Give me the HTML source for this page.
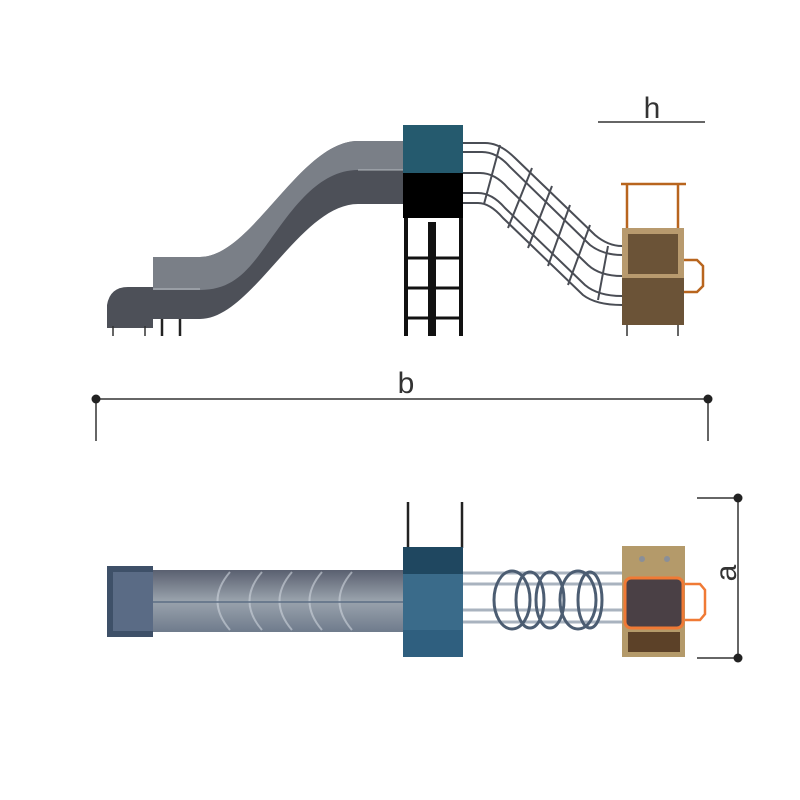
<!DOCTYPE html>
<html><head><meta charset="utf-8"><style>body{margin:0;background:#fff}svg{display:block}</style></head><body>
<svg width="800" height="800" viewBox="0 0 800 800" xmlns="http://www.w3.org/2000/svg">
<defs>
<linearGradient id="tube" x1="0" y1="0" x2="0" y2="1"><stop offset="0" stop-color="#5a6070"/><stop offset="0.5" stop-color="#9aa3ad"/><stop offset="1" stop-color="#6f7b8c"/></linearGradient>
</defs>
<!-- elevation slide -->
<path d="M107,328 L107,305 Q110,287 128,287 L153,287 L153,328 Z" fill="#4d5058"/>
<g stroke="#333" stroke-width="1.5"><line x1="113" y1="326" x2="113" y2="336"/><line x1="145" y1="326" x2="145" y2="336"/></g>
<g stroke="#222" stroke-width="2.5"><line x1="162" y1="318" x2="162" y2="336"/><line x1="180" y1="318" x2="180" y2="336"/></g>
<path d="M153,257 H200 C252,257 300,141 358,141 H403 V204 H358 C300,204 252,319 200,319 H153 Z" fill="#4d5058"/>
<path d="M153,257 H200 C252,257 300,141 358,141 H403 V170 H358 C318,170 292,210 270,240 C250,268 235,290 200,290 H153 Z" fill="#7f848d" opacity="0.9"/>
<g stroke="#c8ccd2" stroke-width="1" fill="none" opacity="0.8"><line x1="153" y1="289" x2="200" y2="289"/><line x1="358" y1="170" x2="403" y2="170"/></g>
<!-- tower -->
<rect x="403" y="125" width="60" height="48" fill="#255a6e"/>
<rect x="403" y="173" width="60" height="45" fill="#000"/>
<g stroke="#111"><line x1="406" y1="218" x2="406" y2="336" stroke-width="4"/><line x1="461" y1="218" x2="461" y2="336" stroke-width="4"/><line x1="432" y1="222" x2="432" y2="336" stroke-width="8"/>
<line x1="406" y1="258" x2="461" y2="258" stroke-width="3"/><line x1="406" y1="288" x2="461" y2="288" stroke-width="3"/><line x1="406" y1="318" x2="461" y2="318" stroke-width="3"/></g>
<!-- net -->
<g fill="none" stroke="#4a4d55" stroke-width="2">
<path d="M463,143 H485 Q500,143 515,158 L595,235 Q608,246 622,246"/>
<path d="M463,152 H482 Q497,152 510,167 L590,245 Q603,255 622,255"/>
<path d="M463,173 H480 Q495,173 508,188 L588,265 Q600,276 622,276"/>
<path d="M463,193 H478 Q492,193 505,208 L585,285 Q598,296 622,296"/>
<path d="M463,203 H478 Q490,203 503,218 L583,295 Q596,305 622,305"/>
<path d="M500,145 L484,204 M532,168 L508,228 M552,186 L528,248 M570,205 L548,266 M590,225 L568,285 M608,246 L598,300"/>
</g>
<!-- box elevation -->
<g stroke="#b8651e" stroke-width="2.5" fill="none"><line x1="621" y1="184" x2="686" y2="184"/><line x1="627" y1="184" x2="627" y2="230"/><line x1="678" y1="184" x2="678" y2="230"/><path d="M683,260 H697 L703,266 V286 L697,292 H683"/></g>
<rect x="622" y="228" width="62" height="97" fill="#b89a6e"/>
<rect x="628" y="234" width="50" height="40" fill="#6b5337"/>
<rect x="622" y="278" width="62" height="47" fill="#6b5337"/>
<g stroke="#666" stroke-width="2"><line x1="627" y1="325" x2="627" y2="336"/><line x1="678" y1="325" x2="678" y2="336"/></g>
<!-- dims -->
<g stroke="#333" stroke-width="1.5"><line x1="598" y1="122" x2="705" y2="122"/><line x1="96" y1="399" x2="708" y2="399"/><line x1="96" y1="399" x2="96" y2="441"/><line x1="708" y1="399" x2="708" y2="441"/>
<line x1="738" y1="498" x2="738" y2="658"/><line x1="697" y1="498" x2="738" y2="498"/><line x1="697" y1="658" x2="738" y2="658"/></g>
<g fill="#222"><circle cx="96" cy="399" r="4.5"/><circle cx="708" cy="399" r="4.5"/><circle cx="738" cy="498" r="4.5"/><circle cx="738" cy="658" r="4.5"/></g>
<g font-family="Liberation Sans, sans-serif" font-size="30" fill="#333" text-anchor="middle">
<text x="652" y="118">h</text><text x="406" y="393">b</text>
<text x="0" y="0" transform="translate(736,573) rotate(-90)">a</text></g>
<!-- plan slide -->
<rect x="153" y="570" width="250" height="62" fill="url(#tube)"/>
<rect x="107" y="566" width="46" height="71" fill="#3e5068"/>
<rect x="113" y="572" width="40" height="59" fill="#5a6b85"/>
<g fill="none" stroke="#cdd3dc" stroke-width="2" opacity="0.6">
<path d="M230,572 Q205,601 230,630 M262,572 Q237,601 262,630 M292,572 Q267,601 292,630 M322,572 Q297,601 322,630 M352,572 Q327,601 352,630"/></g>
<line x1="153" y1="602" x2="403" y2="602" stroke="#5c6e84" stroke-width="1.5"/>
<!-- plan tower -->
<g stroke="#222" stroke-width="2.5"><line x1="408" y1="502" x2="408" y2="548"/><line x1="462" y1="502" x2="462" y2="548"/></g>
<rect x="403" y="547" width="60" height="110" fill="#3a6b8a"/>
<rect x="403" y="547" width="60" height="27" fill="#1f4760"/>
<rect x="403" y="630" width="60" height="27" fill="#2f5f7f"/>
<!-- rings -->
<g stroke="#a9b3bf" stroke-width="3"><line x1="463" y1="573" x2="622" y2="573"/><line x1="463" y1="584" x2="622" y2="584"/><line x1="463" y1="610" x2="622" y2="610"/><line x1="463" y1="622" x2="622" y2="622"/></g>
<g fill="none" stroke="#4c5d72" stroke-width="3"><ellipse cx="512" cy="600" rx="18" ry="29"/><ellipse cx="530" cy="600" rx="14" ry="28"/><ellipse cx="550" cy="600" rx="14" ry="28"/><ellipse cx="578" cy="600" rx="18" ry="29"/><ellipse cx="590" cy="600" rx="12" ry="28"/></g>
<!-- plan box -->
<path d="M684,584 H700 L705,590 V614 L700,620 H684" fill="none" stroke="#f07a35" stroke-width="2.5"/>
<rect x="622" y="546" width="63" height="111" fill="#b49a6a"/>
<rect x="625" y="578" width="58" height="50" rx="6" fill="#4a4045" stroke="#f07a35" stroke-width="3"/>
<rect x="628" y="632" width="52" height="20" fill="#5c4128"/>
<g fill="#8a8f99"><circle cx="642" cy="559" r="3"/><circle cx="667" cy="559" r="3"/></g>
</svg>
</body></html>
